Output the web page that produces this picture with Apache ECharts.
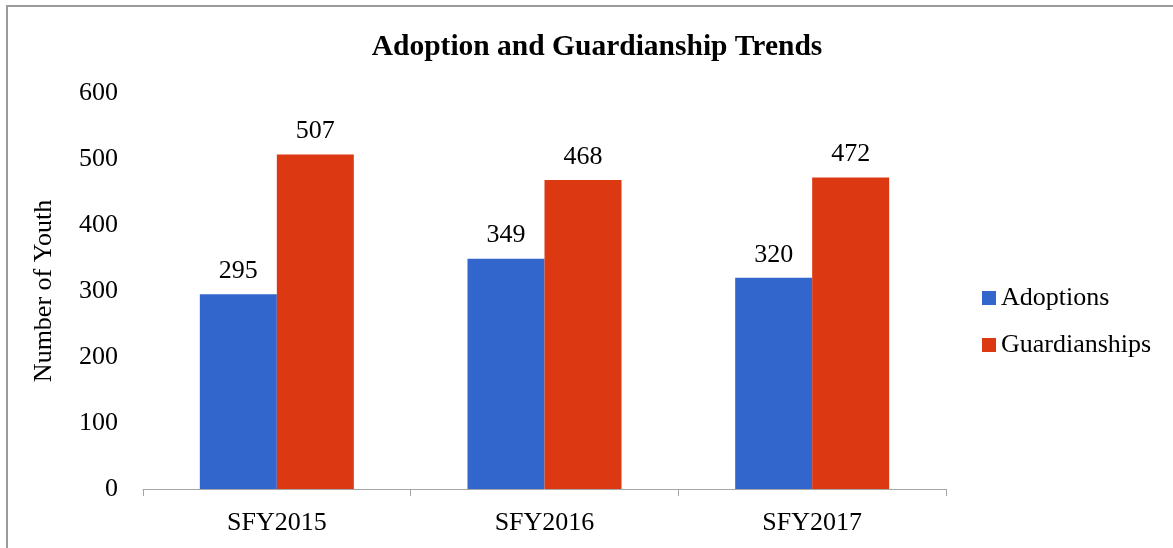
<!DOCTYPE html>
<html>
<head>
<meta charset="utf-8">
<script src="https://cdn.jsdelivr.net/npm/echarts@6/dist/echarts.min.js"></script>
<style>
  html, body { margin: 0; padding: 0; background: #fff; }
  .frame {
    position: absolute;
    left: 6px;
    top: 5px;
    width: 1180px;
    height: 560px;
    border-left: 2px solid #9a9a9a;
    border-top: 2px solid #9a9a9a;
  }
  #chart { position: absolute; left: 0; top: 0; width: 1173px; height: 548px; }
</style>
</head>
<body>
<div class="frame"></div>
<div id="chart"></div>
<script>
const years = ['SFY2015', 'SFY2016', 'SFY2017'];
const adoptions = [295, 349, 320];
const guardianships = [507, 468, 472];

const font = '"Liberation Serif", "Times New Roman", serif';
const myChart = echarts.init(document.getElementById('chart'));

const labelStyle = {
  show: true,
  position: 'top',
  distance: 10,
  fontFamily: font,
  fontSize: 26,
  color: '#000'
};

const option = {
  animation: false,
  textStyle: { fontFamily: font },
  title: {
    text: 'Adoption and Guardianship Trends',
    left: 592,
    top: 27,
    textAlign: 'center',
    textStyle: { fontFamily: font, fontSize: 29.5, fontWeight: 'bold', color: '#000' }
  },
  grid: { left: 143, right: 227, top: 93, bottom: 59 },
  legend: {
    orient: 'vertical',
    left: 977,
    top: 280,
    itemWidth: 14,
    itemHeight: 14,
    itemGap: 21,
    icon: 'rect',
    textStyle: { fontFamily: font, fontSize: 26, color: '#000', padding: 0 },
    data: ['Adoptions', 'Guardianships']
  },
  xAxis: {
    type: 'category',
    data: years,
    axisLine: { lineStyle: { color: '#a6a6a6', width: 1 } },
    axisTick: { show: true, length: 7, lineStyle: { color: '#a6a6a6' } },
    axisLabel: { fontFamily: font, fontSize: 26, color: '#000', margin: 21 }
  },
  yAxis: {
    type: 'value',
    min: 0,
    max: 600,
    interval: 100,
    name: 'Number of Youth',
    nameLocation: 'middle',
    nameGap: 86,
    nameTextStyle: { fontFamily: font, fontSize: 26, color: '#000' },
    axisLine: { show: false },
    axisTick: { show: false },
    splitLine: { show: false },
    axisLabel: { fontFamily: font, fontSize: 26, color: '#000', margin: 25 }
  },
  series: [
    {
      name: 'Adoptions',
      type: 'bar',
      data: adoptions,
      barWidth: 77,
      barGap: '0%',
      itemStyle: { color: '#3366cc' },
      label: labelStyle
    },
    {
      name: 'Guardianships',
      type: 'bar',
      data: guardianships,
      barWidth: 77,
      itemStyle: { color: '#dc3912' },
      label: labelStyle
    }
  ]
};

myChart.setOption(option);
</script>
</body>
</html>
